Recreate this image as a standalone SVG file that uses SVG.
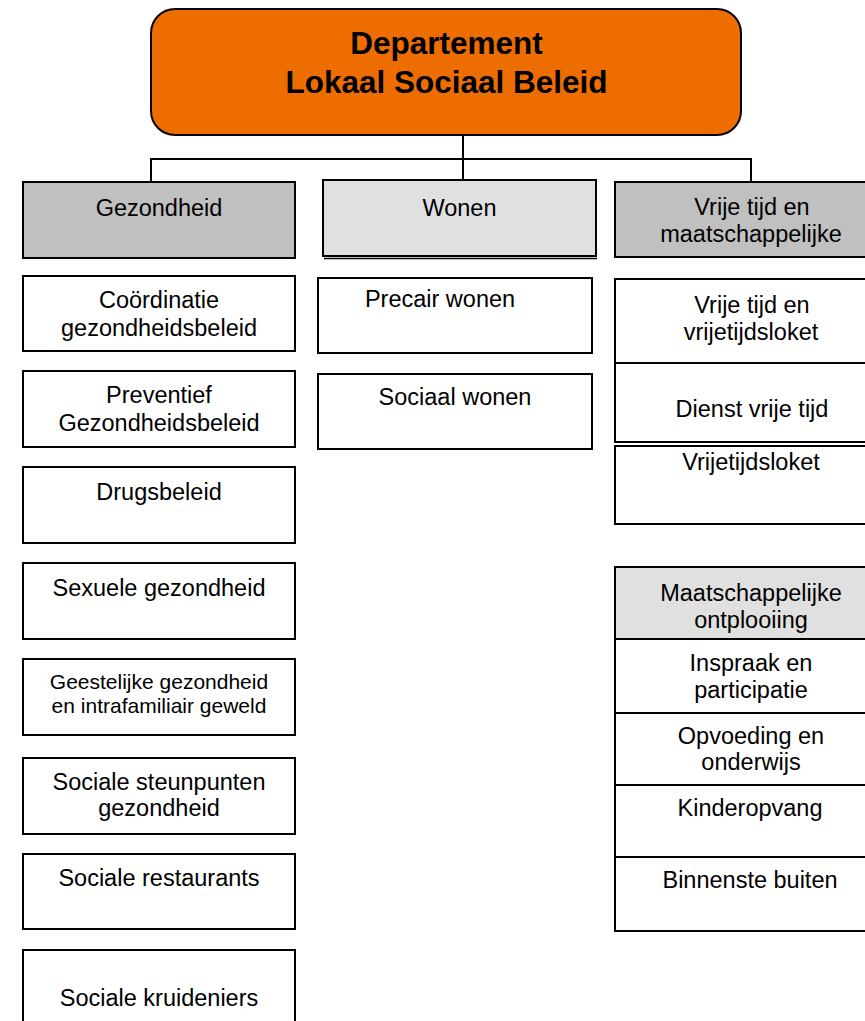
<svg xmlns="http://www.w3.org/2000/svg" width="865" height="1021" viewBox="0 0 865 1021">
<style>
  .box { fill: #ffffff; stroke: #000000; stroke-width: 2; }
  .dark { fill: #c0c0c0; stroke: #000000; stroke-width: 2; }
  .light { fill: #e0e0e0; stroke: #000000; stroke-width: 2; }
  .root { fill: #ed6d00; stroke: #000000; stroke-width: 2; }
  .conn { stroke: #000000; stroke-width: 2; fill: none; }
  text { font-family: "Liberation Sans", Arial, sans-serif; font-size: 23.5px; fill: #000000; text-anchor: middle; }
  .title { font-size: 31.5px; font-weight: bold; }
  .small { font-size: 21px; }
</style>
<rect width="865" height="1021" fill="#ffffff"/>

<g id="connectors">
  <line class="conn" x1="463" y1="135" x2="463" y2="180"/>
  <line class="conn" x1="151" y1="159" x2="751" y2="159"/>
  <line class="conn" x1="151" y1="158" x2="151" y2="182"/>
  <line class="conn" x1="751" y1="158" x2="751" y2="182"/>
</g>

<g id="root">
  <rect class="root" x="151" y="9" width="590" height="126" rx="24" ry="24"/>
  <text class="title" x="446.5" y="54">Departement</text>
  <text class="title" x="446.5" y="93">Lokaal Sociaal Beleid</text>
</g>

<g id="gezondheid">
  <rect class="dark" x="23" y="182" width="272" height="76"/>
  <text x="159" y="216">Gezondheid</text>
</g>
<g id="coordinatie">
  <rect class="box" x="23" y="276" width="272" height="75"/>
  <text x="159" y="308">Coördinatie</text>
  <text x="159" y="336">gezondheidsbeleid</text>
</g>
<g id="preventief">
  <rect class="box" x="23" y="371" width="272" height="76"/>
  <text x="159" y="403">Preventief</text>
  <text x="159" y="431">Gezondheidsbeleid</text>
</g>
<g id="drugsbeleid">
  <rect class="box" x="23" y="467" width="272" height="76"/>
  <text x="159" y="500">Drugsbeleid</text>
</g>
<g id="sexuele">
  <rect class="box" x="23" y="563" width="272" height="76"/>
  <text x="159" y="596">Sexuele gezondheid</text>
</g>
<g id="geestelijke">
  <rect class="box" x="23" y="659" width="272" height="76"/>
  <text class="small" x="159" y="689">Geestelijke gezondheid</text>
  <text class="small" x="159" y="713">en intrafamiliair geweld</text>
</g>
<g id="steunpunten">
  <rect class="box" x="23" y="758" width="272" height="76"/>
  <text x="159" y="790">Sociale steunpunten</text>
  <text x="159" y="816">gezondheid</text>
</g>
<g id="restaurants">
  <rect class="box" x="23" y="854" width="272" height="75"/>
  <text x="159" y="886">Sociale restaurants</text>
</g>
<g id="kruideniers">
  <rect class="box" x="23" y="950" width="272" height="90"/>
  <text x="159" y="1006">Sociale kruideniers</text>
</g>

<g id="wonen">
  <rect class="light" x="323" y="180" width="273" height="76"/>
  <line x1="324" y1="258.5" x2="597" y2="258.5" stroke="#000000" stroke-width="1.5"/>
  <text x="459.5" y="216">Wonen</text>
</g>
<g id="precair">
  <rect class="box" x="318" y="278" width="274" height="75"/>
  <text x="440" y="307">Precair wonen</text>
</g>
<g id="sociaal-wonen">
  <rect class="box" x="318" y="374" width="274" height="75"/>
  <text x="455" y="405">Sociaal wonen</text>
</g>

<g id="vrije-tijd-header">
  <rect class="dark" x="615" y="182" width="272" height="75"/>
  <text x="752" y="215">Vrije tijd en</text>
  <text x="751" y="242">maatschappelijke</text>
</g>
<g id="vrijetijdsloket-dienst">
  <rect class="box" x="615" y="279" width="272" height="84"/>
  <text x="752" y="313">Vrije tijd en</text>
  <text x="751" y="340">vrijetijdsloket</text>
</g>
<g id="dienst-vrije-tijd">
  <rect class="box" x="615" y="363" width="272" height="79"/>
  <text x="752" y="417">Dienst vrije tijd</text>
</g>
<g id="vrijetijdsloket">
  <rect class="box" x="615" y="446" width="272" height="78"/>
  <text x="751" y="470">Vrijetijdsloket</text>
</g>

<g id="maatschappelijke-ontplooiing">
  <rect class="light" x="615" y="567" width="272" height="72"/>
  <text x="751" y="601">Maatschappelijke</text>
  <text x="751" y="628">ontplooiing</text>
</g>
<g id="inspraak">
  <rect class="box" x="615" y="639" width="272" height="74"/>
  <text x="751" y="671">Inspraak en</text>
  <text x="751" y="698">participatie</text>
</g>
<g id="opvoeding">
  <rect class="box" x="615" y="713" width="272" height="72"/>
  <text x="751" y="744">Opvoeding en</text>
  <text x="751" y="770">onderwijs</text>
</g>
<g id="kinderopvang">
  <rect class="box" x="615" y="785" width="272" height="72"/>
  <text x="750" y="816">Kinderopvang</text>
</g>
<g id="binnenste-buiten">
  <rect class="box" x="615" y="857" width="272" height="74"/>
  <text x="750" y="888">Binnenste buiten</text>
</g>
</svg>
